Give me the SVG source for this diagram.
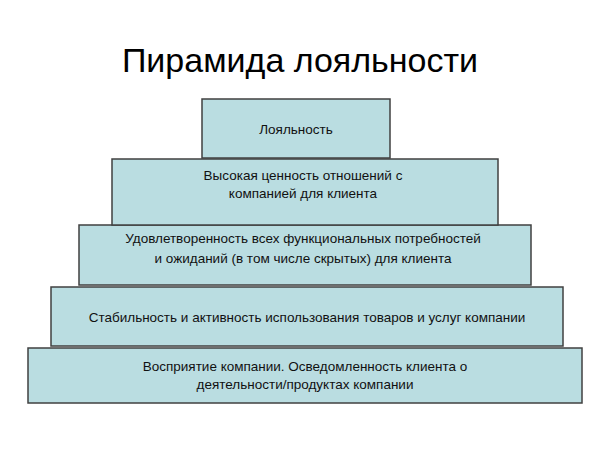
<svg xmlns="http://www.w3.org/2000/svg" width="600" height="451" viewBox="0 0 600 451">
<style>
.b{fill:#badde1;stroke:#404040;stroke-width:1.5}
.t{font-family:"Liberation Sans",Arial,sans-serif;font-size:13.5px;fill:#111;text-anchor:middle}
</style>
<rect width="600" height="451" fill="#fff"/>
<text x="300" y="72" style="font-family:'Liberation Sans',Arial,sans-serif;font-size:34px;fill:#000;text-anchor:middle">Пирамида лояльности</text>
<g id="n5"><rect class="b" x="28" y="348" width="554" height="55"/><text class="t" x="305" y="371">Восприятие компании. Осведомленность клиента о</text><text class="t" x="305" y="389">деятельности/продуктах компании</text></g>
<g id="n4"><rect class="b" x="51" y="287" width="512" height="59"/><text class="t" x="307" y="322">Стабильность и активность использования товаров и услуг компании</text></g>
<g id="n3"><rect class="b" x="79" y="225" width="452" height="60"/><text class="t" x="303" y="243">Удовлетворенность всех функциональных потребностей</text><text class="t" x="303" y="263">и ожиданий (в том числе скрытых) для клиента</text></g>
<g id="n2"><rect class="b" x="112" y="159" width="386" height="66"/><text class="t" x="303" y="180">Высокая ценность отношений с</text><text class="t" x="303" y="198">компанией для клиента</text></g>
<g id="n1"><rect class="b" x="202" y="99" width="188" height="59"/><text class="t" x="296" y="134">Лояльность</text></g>
<g id="connectors"/>
</svg>
